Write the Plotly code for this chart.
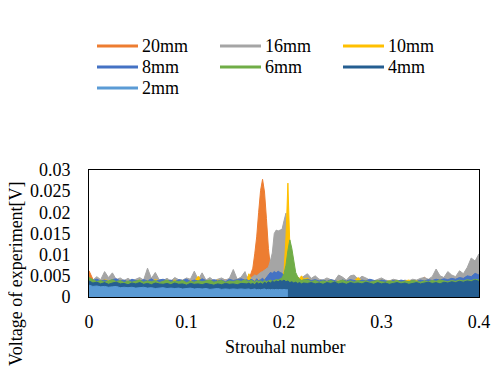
import numpy as np
import plotly.graph_objects as go

# ---------------- data ----------------
strouhal = np.round(np.concatenate([
    np.arange(0, 0.1601, 0.004),
    np.arange(0.162, 0.2201, 0.002),
    np.arange(0.224, 0.4001, 0.004),
]), 3)

v20 = [0.0062, 0.0042, 0.0038, 0.0041, 0.0036, 0.0040, 0.0037, 0.0042, 0.0038, 0.0035,
       0.0039, 0.0036, 0.0040, 0.0037, 0.0041, 0.0038, 0.0036, 0.0040, 0.0037, 0.0039,
       0.0042, 0.0036, 0.0038, 0.0035, 0.0039, 0.0037, 0.0041, 0.0036, 0.0038, 0.0052,
       0.0037, 0.0040, 0.0036, 0.0039, 0.0037, 0.0041, 0.0038, 0.0040, 0.0042, 0.0039,
       0.0044,
       0.0045, 0.0048, 0.0055, 0.0068, 0.0102, 0.0142, 0.0200, 0.0252, 0.0278, 0.0248,
       0.0185, 0.0115, 0.0072, 0.0052, 0.0044, 0.0040, 0.0042, 0.0039, 0.0041, 0.0038,
       0.0040, 0.0037, 0.0039, 0.0036, 0.0040, 0.0037, 0.0039, 0.0036, 0.0038, 0.0037,
       0.0038, 0.0036, 0.0039, 0.0037, 0.0035, 0.0038, 0.0036, 0.0039, 0.0037, 0.0035,
       0.0038, 0.0036, 0.0039, 0.0037, 0.0036, 0.0038, 0.0035, 0.0037, 0.0039, 0.0036,
       0.0038, 0.0036, 0.0037, 0.0035, 0.0038, 0.0036, 0.0037, 0.0039, 0.0036, 0.0038,
       0.0047, 0.0037, 0.0036, 0.0039, 0.0037, 0.0038, 0.0040, 0.0037, 0.0039, 0.0041,
       0.0038, 0.0040, 0.0042, 0.0039, 0.0041]

v16 = [0.0045, 0.0040, 0.0048, 0.0041, 0.0060, 0.0046, 0.0057, 0.0041, 0.0045, 0.0039,
       0.0044, 0.0038, 0.0042, 0.0046, 0.0040, 0.0068, 0.0044, 0.0058, 0.0041, 0.0039,
       0.0044, 0.0038, 0.0046, 0.0041, 0.0040, 0.0045, 0.0042, 0.0061, 0.0041, 0.0057,
       0.0040, 0.0046, 0.0039, 0.0042, 0.0045, 0.0040, 0.0044, 0.0065, 0.0042, 0.0047,
       0.0060,
       0.0046, 0.0050, 0.0044, 0.0048, 0.0052, 0.0050, 0.0055, 0.0058, 0.0060, 0.0064,
       0.0066, 0.0070, 0.0085, 0.0104, 0.0150, 0.0158, 0.0156, 0.0158, 0.0160, 0.0180,
       0.0198, 0.0120, 0.0065, 0.0052, 0.0046, 0.0044, 0.0048, 0.0042, 0.0045, 0.0050,
       0.0055, 0.0044, 0.0050, 0.0042, 0.0040, 0.0045, 0.0041, 0.0039, 0.0052, 0.0047,
       0.0040, 0.0050, 0.0052, 0.0042, 0.0049, 0.0045, 0.0040, 0.0038, 0.0042, 0.0045,
       0.0040, 0.0038, 0.0042, 0.0040, 0.0036, 0.0040, 0.0038, 0.0042, 0.0040, 0.0044,
       0.0046, 0.0042, 0.0048, 0.0066, 0.0050, 0.0046, 0.0060, 0.0052, 0.0048, 0.0062,
       0.0055, 0.0070, 0.0092, 0.0085, 0.0102]

v10 = [0.0040, 0.0037, 0.0039, 0.0036, 0.0041, 0.0038, 0.0036, 0.0040, 0.0037, 0.0039,
       0.0036, 0.0038, 0.0037, 0.0040, 0.0036, 0.0039, 0.0037, 0.0041, 0.0038, 0.0036,
       0.0039, 0.0037, 0.0040, 0.0036, 0.0038, 0.0037, 0.0039, 0.0036, 0.0049, 0.0038,
       0.0036, 0.0039, 0.0037, 0.0040, 0.0038, 0.0036, 0.0039, 0.0037, 0.0041, 0.0040,
       0.0042,
       0.0040, 0.0055, 0.0042, 0.0038, 0.0040, 0.0037, 0.0041, 0.0038, 0.0040, 0.0042,
       0.0039, 0.0041, 0.0040, 0.0043, 0.0042, 0.0045, 0.0044, 0.0046, 0.0050, 0.0060,
       0.0140, 0.0269, 0.0120, 0.0060, 0.0050, 0.0046, 0.0048, 0.0044, 0.0050, 0.0042,
       0.0045, 0.0038, 0.0040, 0.0036, 0.0039, 0.0037, 0.0040, 0.0036, 0.0038, 0.0037,
       0.0039, 0.0036, 0.0038, 0.0046, 0.0037, 0.0039, 0.0036, 0.0038, 0.0037, 0.0040,
       0.0036, 0.0038, 0.0037, 0.0039, 0.0036, 0.0038, 0.0040, 0.0037, 0.0039, 0.0036,
       0.0038, 0.0040, 0.0037, 0.0039, 0.0041, 0.0038, 0.0040, 0.0042, 0.0039, 0.0041,
       0.0043, 0.0040, 0.0044, 0.0042, 0.0045]

v8 = [0.0044, 0.0039, 0.0042, 0.0038, 0.0040, 0.0037, 0.0041, 0.0043, 0.0038, 0.0040,
      0.0036, 0.0042, 0.0039, 0.0037, 0.0041, 0.0038, 0.0043, 0.0037, 0.0040, 0.0042,
      0.0038, 0.0040, 0.0036, 0.0041, 0.0039, 0.0042, 0.0037, 0.0040, 0.0038, 0.0043,
      0.0039, 0.0037, 0.0041, 0.0038, 0.0040, 0.0036, 0.0042, 0.0039, 0.0041, 0.0043,
      0.0040,
      0.0041, 0.0038, 0.0042, 0.0040, 0.0037, 0.0043, 0.0039, 0.0041, 0.0044, 0.0040,
      0.0046, 0.0050, 0.0058, 0.0056, 0.0060, 0.0057, 0.0061, 0.0058, 0.0056, 0.0050,
      0.0046, 0.0044, 0.0042, 0.0045, 0.0040, 0.0043, 0.0039, 0.0041, 0.0038, 0.0040,
      0.0042, 0.0039, 0.0041, 0.0038, 0.0040, 0.0037, 0.0041, 0.0039, 0.0036, 0.0040,
      0.0038, 0.0041, 0.0039, 0.0037, 0.0040, 0.0038, 0.0042, 0.0039, 0.0037, 0.0040,
      0.0038, 0.0036, 0.0039, 0.0037, 0.0040, 0.0038, 0.0036, 0.0039, 0.0037, 0.0040,
      0.0038, 0.0041, 0.0039, 0.0042, 0.0040, 0.0043, 0.0041, 0.0044, 0.0042, 0.0046,
      0.0044, 0.0050, 0.0048, 0.0056, 0.0052]

v6 = [0.0046, 0.0040, 0.0036, 0.0039, 0.0035, 0.0038, 0.0041, 0.0036, 0.0039, 0.0034,
      0.0038, 0.0035, 0.0037, 0.0040, 0.0035, 0.0038, 0.0036, 0.0039, 0.0034, 0.0037,
      0.0040, 0.0035, 0.0038, 0.0036, 0.0039, 0.0034, 0.0037, 0.0035, 0.0039, 0.0036,
      0.0038, 0.0040, 0.0035, 0.0037, 0.0039, 0.0034, 0.0038, 0.0036, 0.0039, 0.0037,
      0.0040,
      0.0038, 0.0036, 0.0040, 0.0037, 0.0035, 0.0039, 0.0036, 0.0038, 0.0035, 0.0039,
      0.0036, 0.0038, 0.0040, 0.0037, 0.0039, 0.0041, 0.0040, 0.0043, 0.0045, 0.0055,
      0.0075, 0.0110, 0.0135, 0.0115, 0.0080, 0.0058, 0.0048, 0.0042, 0.0039, 0.0041,
      0.0040, 0.0036, 0.0039, 0.0035, 0.0038, 0.0036, 0.0039, 0.0035, 0.0037, 0.0040,
      0.0036, 0.0038, 0.0035, 0.0039, 0.0036, 0.0038, 0.0035, 0.0037, 0.0039, 0.0036,
      0.0035, 0.0038, 0.0036, 0.0039, 0.0035, 0.0037, 0.0036, 0.0039, 0.0037, 0.0035,
      0.0038, 0.0036, 0.0039, 0.0037, 0.0040, 0.0038, 0.0036, 0.0039, 0.0037, 0.0040,
      0.0038, 0.0041, 0.0039, 0.0042, 0.0040]

v4 = [0.0038, 0.0033, 0.0035, 0.0031, 0.0034, 0.0030, 0.0033, 0.0035, 0.0031, 0.0032,
      0.0029, 0.0033, 0.0031, 0.0034, 0.0030, 0.0032, 0.0029, 0.0033, 0.0031, 0.0030,
      0.0032, 0.0029, 0.0033, 0.0030, 0.0031, 0.0028, 0.0032, 0.0030, 0.0031, 0.0029,
      0.0032, 0.0030, 0.0028, 0.0031, 0.0029, 0.0032, 0.0030, 0.0031, 0.0029, 0.0032,
      0.0031,
      0.0031, 0.0033, 0.0030, 0.0032, 0.0029, 0.0034, 0.0031, 0.0033, 0.0030, 0.0035,
      0.0032, 0.0036, 0.0033, 0.0037, 0.0035, 0.0038, 0.0036, 0.0039, 0.0037, 0.0040,
      0.0036, 0.0038, 0.0034, 0.0036, 0.0033, 0.0035, 0.0032, 0.0034, 0.0031, 0.0033,
      0.0032, 0.0034, 0.0031, 0.0033, 0.0030, 0.0034, 0.0032, 0.0035, 0.0031, 0.0033,
      0.0030, 0.0034, 0.0032, 0.0033, 0.0031, 0.0035, 0.0032, 0.0030, 0.0034, 0.0031,
      0.0033, 0.0030, 0.0032, 0.0034, 0.0031, 0.0033, 0.0030, 0.0032, 0.0034, 0.0031,
      0.0033, 0.0035, 0.0032, 0.0034, 0.0031, 0.0035, 0.0033, 0.0036, 0.0034, 0.0037,
      0.0035, 0.0038, 0.0036, 0.0040, 0.0037]

v2 = [0.0028, 0.0025, 0.0026, 0.0024, 0.0025, 0.0023, 0.0024, 0.0025, 0.0022, 0.0023,
      0.0022, 0.0023, 0.0021, 0.0022, 0.0023, 0.0021, 0.0022, 0.0020, 0.0021, 0.0022,
      0.0020, 0.0021, 0.0020, 0.0021, 0.0019, 0.0020, 0.0021, 0.0019, 0.0020, 0.0019,
      0.0020, 0.0018, 0.0019, 0.0020, 0.0018, 0.0019, 0.0018, 0.0019, 0.0018, 0.0019,
      0.0018,
      0.0018, 0.0019, 0.0017, 0.0018, 0.0019, 0.0017, 0.0018, 0.0017, 0.0018, 0.0019,
      0.0017, 0.0018, 0.0017, 0.0018, 0.0017, 0.0018, 0.0017, 0.0018, 0.0017, 0.0018,
      0.0017, 0.0017] + [None] * 53

series_names = ["20mm", "16mm", "10mm", "8mm", "6mm", "4mm", "2mm"]
series_values = [v20, v16, v10, v8, v6, v4, v2]
series_colors = ["#ED7D31", "#A5A5A5", "#FFC000", "#4472C4", "#70AD47", "#255E91", "#5B9BD5"]

ytick_vals = [0, 0.005, 0.01, 0.015, 0.02, 0.025, 0.03]
ytick_text = ["0", "0.005", "0.01", "0.015", "0.02", "0.025", "0.03"]
xtick_vals = [0, 0.1, 0.2, 0.3, 0.4]
xtick_text = ["0", "0.1", "0.2", "0.3", "0.4"]

FONT = "Liberation Serif"
W, H = 504, 366
OFF = 8  # page body margin offset compensation
L, T = 89 - OFF, 170 - OFF
PW, PH = 390, 127
R, B = W - L - PW, H - T - PH


def px(x):
    return (x - OFF - L) / PW


def py(y):
    return (T + PH - (y - OFF)) / PH


fig = go.Figure()
for name, vals, col in zip(series_names, series_values, series_colors):
    fig.add_trace(go.Scatter(
        x=strouhal, y=vals, name=name, mode="lines",
        line=dict(color=col, width=1), fill="tozeroy", fillcolor=col,
        showlegend=False, hoverinfo="skip",
    ))

# custom legend (3 columns)
col_x = [97, 220, 343]
row_y = [46, 67, 88]
shapes = []
annotations = []
for i, (name, col) in enumerate(zip(series_names, series_colors)):
    cx = col_x[i % 3]
    ry = row_y[i // 3]
    shapes.append(dict(type="line", xref="paper", yref="paper",
                       x0=px(cx), x1=px(cx + 41), y0=py(ry), y1=py(ry),
                       line=dict(color=col, width=3)))
    annotations.append(dict(text=name, xref="paper", yref="paper",
                            x=px(cx + 43), y=py(ry), xanchor="left", yanchor="middle",
                            showarrow=False, font=dict(size=18, color="black", family=FONT)))

annotations.append(dict(text="Strouhal number", xref="paper", yref="paper",
                        x=px(284.5), y=py(347), xanchor="center", yanchor="middle",
                        showarrow=False, font=dict(size=18, color="black", family=FONT)))
annotations.append(dict(text="Voltage of experiment[V]", xref="paper", yref="paper",
                        x=px(16), y=py(274), xanchor="center", yanchor="middle", textangle=-90,
                        showarrow=False, font=dict(size=18, color="black", family=FONT)))

fig.update_layout(
    width=W, height=H,
    margin=dict(l=L, r=R, t=T, b=B),
    paper_bgcolor="white", plot_bgcolor="white",
    font=dict(family=FONT, size=18, color="black"),
    shapes=shapes, annotations=annotations,
    showlegend=False,
)
fig.update_xaxes(range=[0, 0.4], tickvals=xtick_vals, ticktext=xtick_text,
                 showgrid=False, zeroline=False, showline=True, mirror=True,
                 linecolor="black", linewidth=1, ticks="", ticklabelstandoff=8,
                 tickfont=dict(size=18, family=FONT, color="black"))
fig.update_yaxes(range=[0, 0.03], tickvals=ytick_vals, ticktext=ytick_text,
                 showgrid=False, zeroline=False, showline=True, mirror=True,
                 linecolor="black", linewidth=1, ticks="", ticklabelstandoff=14,
                 tickfont=dict(size=18, family=FONT, color="black"))

fig.write_html("out.html")
